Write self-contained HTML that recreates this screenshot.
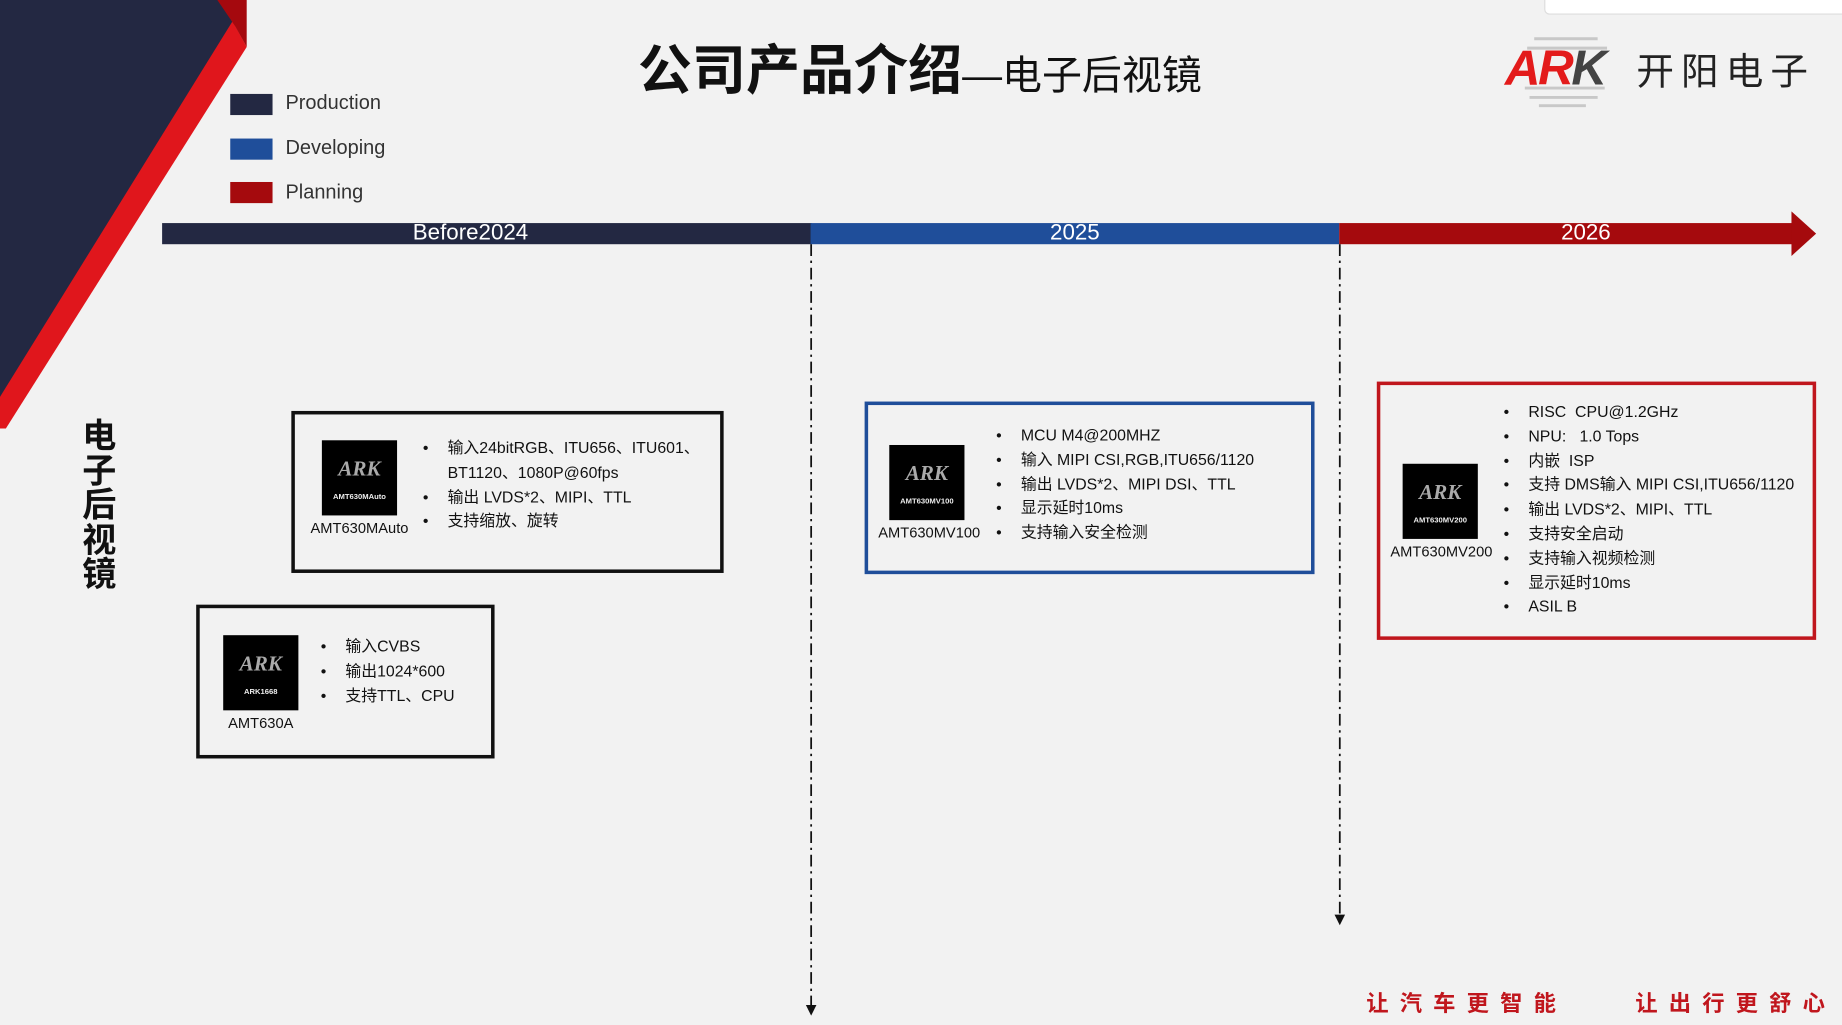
<!DOCTYPE html>
<html><head><meta charset="utf-8"><style>
html,body{margin:0;padding:0;width:1842px;height:1025px;overflow:hidden;background:#f2f2f2}
#w{position:absolute;left:0;top:0;width:1568px;height:873px;transform:scale(1.17474,1.17411);transform-origin:0 0;font-family:"Liberation Sans","Noto Sans CJK SC",sans-serif;color:#111}
.a{position:absolute;white-space:nowrap}
.box{position:absolute;box-sizing:border-box;background:#f2f2f2}
.chip{position:absolute;width:64px;height:64px;background:#000;color:#fff}
.chip .l{position:absolute;left:0;right:0;top:14px;text-align:center;font-family:"Liberation Serif",serif;font-style:italic;font-weight:bold;font-size:18px;color:#aaa}
.chip .n{position:absolute;left:0;right:0;top:45px;text-align:center;font-size:6.5px;font-weight:bold;color:#eee}
.cap{position:absolute;font-size:12.5px;text-align:center;width:100px}
ul{position:absolute;margin:0;padding:0;list-style:none;font-size:13.5px;line-height:20.8px}
li{position:relative;padding-left:21px;white-space:nowrap}
li:before{content:"•";position:absolute;left:0}
</style></head><body><div id="w">
<svg class="a" style="left:0;top:0" width="1568" height="873">
<polygon points="0,0 200,0 200,25 0,355" fill="#232842"/>
<polygon points="198,18 210,40 5,365 0,365 0,338" fill="#e0161c"/>
<polygon points="185,0 210,0 210,40 200,22" fill="#a5090e"/>
<rect x="138" y="190" width="553" height="18" fill="#232842"/>
<rect x="690" y="190" width="450" height="18" fill="#1f4e9a"/>
<rect x="1140" y="190" width="386" height="18" fill="#a50a0d"/>
<polygon points="1525,180 1546,199 1525,218" fill="#a50a0d"/>
<line x1="690.5" y1="208" x2="690.5" y2="858" stroke="#111" stroke-width="1.5" stroke-dasharray="10,4,2,4"/>
<polygon points="686,856 695,856 690.5,865" fill="#111"/>
<line x1="1140.5" y1="208" x2="1140.5" y2="781" stroke="#111" stroke-width="1.5" stroke-dasharray="10,4,2,4"/>
<polygon points="1136,779 1145,779 1140.5,788" fill="#111"/>
<rect x="1315" y="-5" width="260" height="17" rx="4" fill="#fff" stroke="#ddd"/>
<g stroke="#c8c8c8" stroke-width="2.5">
<line x1="1306" y1="33" x2="1360" y2="33"/><line x1="1300" y1="41" x2="1368" y2="41"/>
<line x1="1298" y1="75" x2="1366" y2="75"/><line x1="1302" y1="83" x2="1360" y2="83"/><line x1="1310" y1="90" x2="1350" y2="90"/>
</g>
</svg>
<div class="a" style="left:543px;top:33px;font-size:46px;font-weight:bold;line-height:54px">公司产品介绍<span style="font-size:34px;font-weight:normal">—电子后视镜</span></div>
<div class="a" style="left:196px;top:80px;width:36px;height:18px;background:#232842"></div>
<div class="a" style="left:196px;top:118px;width:36px;height:18px;background:#1f4e9a"></div>
<div class="a" style="left:196px;top:155px;width:36px;height:18px;background:#a50a0d"></div>
<div class="a" style="left:243px;top:78px;font-size:17px;color:#333">Production</div>
<div class="a" style="left:243px;top:116px;font-size:17px;color:#333">Developing</div>
<div class="a" style="left:243px;top:154px;font-size:17px;color:#333">Planning</div>
<div class="a" style="left:1281px;top:34px;font-size:42px;font-weight:bold;font-style:italic;color:#e31b1b;letter-spacing:-2px">AR<span style="color:#444">K</span></div>
<div class="a" style="left:1393px;top:36px;font-size:32px;color:#222;letter-spacing:6px">开阳电子</div>
<div class="a" style="left:138px;top:188px;width:525px;text-align:center;color:#fff;font-size:19px;line-height:22px">Before2024</div>
<div class="a" style="left:690px;top:188px;width:450px;text-align:center;color:#fff;font-size:19px;line-height:22px">2025</div>
<div class="a" style="left:1140px;top:188px;width:420px;text-align:center;color:#fff;font-size:19px;line-height:22px">2026</div>
<div class="a" style="left:70px;top:358px;width:32px;font-size:29px;font-weight:bold;line-height:29.5px;white-space:normal">电子后视镜</div>

<div class="box" style="left:248px;top:350px;width:368px;height:138px;border:3px solid #111"></div>
<div class="chip" style="left:274px;top:375px"><div class="l">ARK</div><div class="n">AMT630MAuto</div></div>
<div class="cap" style="left:256px;top:443px">AMT630MAuto</div>
<ul style="left:360px;top:372px"><li>输入24bitRGB、ITU656、ITU601、<br>BT1120、1080P@60fps</li><li>输出 LVDS*2、MIPI、TTL</li><li>支持缩放、旋转</li></ul>

<div class="box" style="left:167px;top:515px;width:254px;height:131px;border:3px solid #111"></div>
<div class="chip" style="left:190px;top:541px"><div class="l">ARK</div><div class="n">ARK1668</div></div>
<div class="cap" style="left:172px;top:609px">AMT630A</div>
<ul style="left:273px;top:541px"><li>输入CVBS</li><li>输出1024*600</li><li>支持TTL、CPU</li></ul>

<div class="box" style="left:736px;top:342px;width:383px;height:147px;border:3px solid #1f4e9a"></div>
<div class="chip" style="left:757px;top:379px"><div class="l">ARK</div><div class="n">AMT630MV100</div></div>
<div class="cap" style="left:741px;top:447px">AMT630MV100</div>
<ul style="left:848px;top:361px"><li>MCU M4@200MHZ</li><li>输入 MIPI CSI,RGB,ITU656/1120</li><li>输出 LVDS*2、MIPI DSI、TTL</li><li>显示延时10ms</li><li>支持输入安全检测</li></ul>

<div class="box" style="left:1172px;top:325px;width:374px;height:220px;border:3px solid #c0161d"></div>
<div class="chip" style="left:1194px;top:395px"><div class="l">ARK</div><div class="n">AMT630MV200</div></div>
<div class="cap" style="left:1177px;top:463px">AMT630MV200</div>
<ul style="left:1280px;top:341px"><li>RISC&nbsp; CPU@1.2GHz</li><li>NPU:&nbsp;&nbsp; 1.0 Tops</li><li>内嵌&nbsp; ISP</li><li>支持 DMS输入 MIPI CSI,ITU656/1120</li><li>输出 LVDS*2、MIPI、TTL</li><li>支持安全启动</li><li>支持输入视频检测</li><li>显示延时10ms</li><li>ASIL B</li></ul>

<div class="a" style="left:1163px;top:840px;font-size:19px;font-weight:bold;color:#c0161d;letter-spacing:9.5px">让汽车更智能</div>
<div class="a" style="left:1392px;top:840px;font-size:19px;font-weight:bold;color:#c0161d;letter-spacing:9.5px">让出行更舒心</div>
</div></body></html>
